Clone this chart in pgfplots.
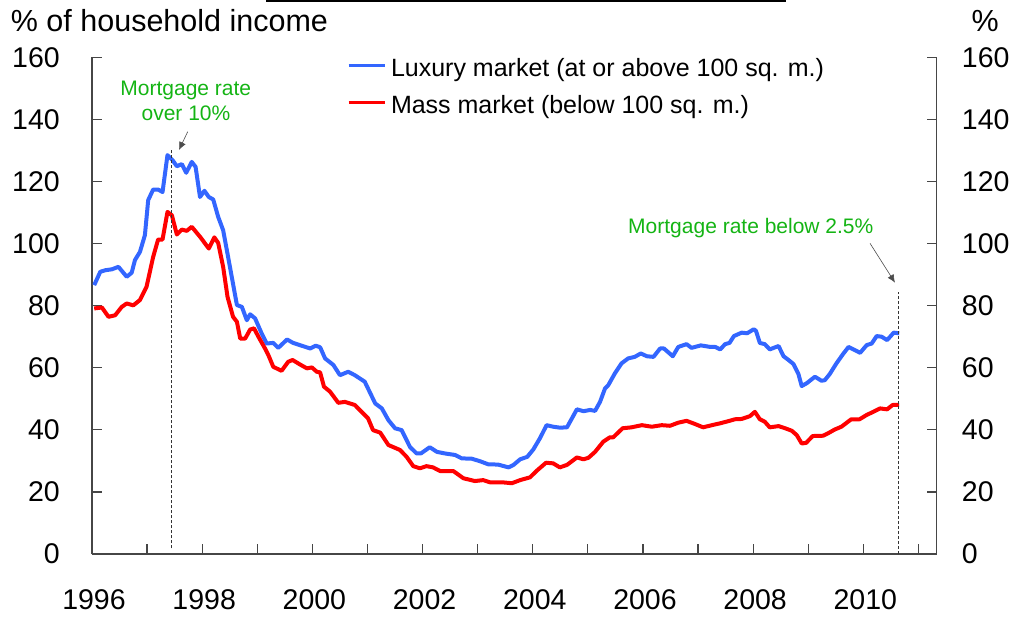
\documentclass[border=0pt]{standalone}
\usepackage{pgfplots}
\pgfplotsset{compat=1.18}
\usepackage{fontspec}
\setmainfont{Liberation Sans}
\usetikzlibrary{arrows.meta}
\definecolor{lux}{RGB}{51,102,255}
\definecolor{mass}{RGB}{255,0,0}
\definecolor{ann}{RGB}{20,180,20}
\definecolor{axgray}{RGB}{70,70,70}

\pgfplotstableread{
x y
1996.04 86.6
1996.15 90.9
1996.24 91.4
1996.36 91.7
1996.48 92.5
1996.63 89.3
1996.72 90.6
1996.78 94.7
1996.87 97.3
1996.96 102.7
1997.02 114.0
1997.11 117.4
1997.20 117.4
1997.28 116.6
1997.37 128.5
1997.46 126.9
1997.54 124.9
1997.63 125.6
1997.71 122.8
1997.81 126.3
1997.88 124.7
1997.96 115.0
1998.04 117.0
1998.12 115.0
1998.20 114.2
1998.29 108.6
1998.38 104.3
1998.47 95.7
1998.63 80.2
1998.72 79.6
1998.81 75.3
1998.87 77.2
1998.96 75.9
1999.08 71.0
1999.17 67.8
1999.29 68.0
1999.38 66.4
1999.54 69.1
1999.65 68.0
1999.77 67.3
1999.96 66.2
2000.06 67.1
2000.14 66.6
2000.23 63.0
2000.38 60.9
2000.50 57.6
2000.65 58.7
2000.77 57.6
2000.95 55.5
2001.14 48.5
2001.26 46.9
2001.38 43.1
2001.50 40.5
2001.62 39.9
2001.77 34.5
2001.89 32.4
2001.97 32.4
2002.13 34.4
2002.26 32.9
2002.40 32.4
2002.59 31.9
2002.71 30.8
2002.89 30.7
2003.04 29.9
2003.19 28.9
2003.37 28.8
2003.56 27.9
2003.65 28.7
2003.77 30.5
2003.90 31.3
2004.01 33.7
2004.13 37.3
2004.25 41.5
2004.37 41.0
2004.49 40.7
2004.62 40.8
2004.80 46.6
2004.92 46.0
2005.04 46.4
2005.13 46.1
2005.22 49.0
2005.31 53.3
2005.37 54.4
2005.49 58.2
2005.61 61.4
2005.73 63.0
2005.85 63.5
2005.96 64.6
2006.07 63.7
2006.19 63.5
2006.31 66.2
2006.38 66.2
2006.54 63.7
2006.64 66.7
2006.79 67.6
2006.88 66.4
2007.05 67.2
2007.22 66.7
2007.31 66.7
2007.40 65.9
2007.49 67.6
2007.57 68.0
2007.65 70.2
2007.79 71.3
2007.89 71.1
2008.01 72.4
2008.05 71.9
2008.12 68.0
2008.21 67.6
2008.30 65.9
2008.46 67.0
2008.55 63.7
2008.64 62.5
2008.73 61.2
2008.82 58.0
2008.88 54.1
2008.97 55.0
2009.12 57.1
2009.24 55.8
2009.30 56.0
2009.39 58.0
2009.51 61.4
2009.63 64.4
2009.73 66.7
2009.82 65.9
2009.94 64.8
2010.06 67.3
2010.15 67.8
2010.24 70.2
2010.33 70.0
2010.43 68.9
2010.55 71.3
2010.65 71.1
}\luxury

\pgfplotstableread{
x y
1996.04 79.1
1996.18 79.4
1996.30 76.4
1996.42 76.9
1996.54 79.6
1996.63 80.7
1996.75 80.1
1996.87 81.8
1996.99 86.1
1997.11 95.7
1997.20 101.3
1997.28 101.3
1997.37 110.2
1997.45 109.1
1997.54 102.9
1997.63 104.5
1997.72 104.1
1997.81 105.4
1997.96 102.2
1998.12 98.4
1998.22 102.0
1998.29 100.2
1998.38 92.5
1998.46 82.8
1998.56 76.4
1998.63 74.8
1998.69 69.4
1998.78 69.4
1998.87 72.3
1998.94 72.7
1999.02 70.0
1999.14 66.2
1999.20 64.1
1999.29 60.3
1999.44 59.0
1999.56 61.9
1999.64 62.5
1999.77 61.1
1999.90 59.8
1999.99 60.1
2000.08 58.7
2000.14 58.5
2000.21 53.9
2000.32 52.3
2000.47 48.7
2000.59 49.0
2000.77 48.0
2000.92 45.3
2001.01 43.7
2001.10 39.9
2001.23 39.1
2001.38 35.1
2001.59 33.5
2001.71 31.3
2001.83 28.3
2001.95 27.6
2002.07 28.3
2002.19 27.9
2002.32 26.7
2002.56 26.7
2002.74 24.4
2002.95 23.5
2003.10 23.8
2003.22 23.1
2003.44 23.1
2003.62 22.8
2003.77 23.8
2003.95 24.7
2004.07 26.8
2004.24 29.4
2004.37 29.2
2004.49 27.9
2004.62 28.7
2004.80 31.1
2004.92 30.5
2005.01 31.0
2005.13 32.9
2005.28 36.2
2005.40 37.6
2005.46 37.6
2005.63 40.5
2005.79 40.8
2005.98 41.5
2006.16 41.0
2006.34 41.5
2006.49 41.3
2006.64 42.3
2006.79 42.9
2006.94 41.9
2007.09 40.8
2007.25 41.5
2007.40 42.1
2007.55 42.8
2007.67 43.4
2007.79 43.5
2007.94 44.4
2008.03 45.8
2008.12 43.4
2008.21 42.6
2008.30 40.8
2008.46 41.2
2008.58 40.5
2008.70 39.7
2008.79 38.3
2008.88 35.6
2008.96 35.8
2009.08 38.0
2009.27 38.1
2009.36 38.9
2009.48 40.1
2009.60 41.0
2009.78 43.4
2009.93 43.4
2010.06 44.8
2010.18 45.8
2010.30 46.9
2010.43 46.6
2010.53 48.0
2010.65 48.0
}\massmkt

\begin{document}
\begin{tikzpicture}
\useasboundingbox (-92pt,-64pt) rectangle (925pt,554pt);
\pgfplotsset{
  common/.style={
    width=844.7pt, height=496.7pt, scale only axis,
    xmin=1996, xmax=2011.33, ymin=0, ymax=160,
    ytick={0,20,...,160},
    tick align=inside, major tick length=10pt,
    tick style={axgray, line width=1.2pt},
    axis line style={-, axgray, line width=1.2pt},
    /pgf/number format/assume math mode=true,
    tick label style={font=\fontsize{28.5}{30}\selectfont, inner sep=0pt},
  }
}
\begin{axis}[common,
  clip=false,
  axis x line*=bottom, axis y line*=left,
  xtick={1996,...,2011},
  xticklabels={1996,,1998,,2000,,2002,,2004,,2006,,2008,,2010,},
  xticklabel style={anchor=base, yshift=-55pt, xshift=2pt},
  yticklabel style={anchor=east, xshift=-32pt},
  legend style={draw=none, fill=none, inner sep=0pt, outer sep=0pt,
    at={(0.3019,0.9972)}, anchor=north west,
    font=\fontsize{25}{30}\selectfont,
    nodes={inner sep=0pt, text height=18pt, text depth=5.5pt, anchor=base west},
    row sep=13.1pt, column sep=5pt},
  legend cell align=left,
  legend image code/.code={\draw[#1, line width=3pt] (0pt,11pt) -- (36pt,11pt);},
]
\addplot[lux, line width=4pt, line join=round] table[x=x,y=y]{\luxury};
\addlegendentry{Luxury market (at or above 100 sq. m.)}
\addplot[mass, line width=4pt, line join=round] table[x=x,y=y]{\massmkt};
\addlegendentry{Mass market (below 100 sq. m.)}
\draw[black!80, line width=1pt, dash pattern=on 3pt off 2pt] (axis cs:1997.434,1.8) -- (axis cs:1997.434,130.6);
\draw[black!80, line width=1pt, dash pattern=on 3pt off 2pt] (axis cs:2010.63,0) -- (axis cs:2010.63,84.4);
\end{axis}
\begin{axis}[common,
  axis x line=none, axis y line*=right,
  yticklabel style={anchor=west, xshift=25pt},
]
\end{axis}
% titles
\node[anchor=base west, inner sep=0pt, font=\fontsize{30.5}{32}\selectfont] at (-81.3pt,522.3pt) {\% of household income};
\node[anchor=base east, inner sep=0pt, font=\fontsize{30.5}{32}\selectfont] at (907pt,522.3pt) {\%};
% top rule
\draw[black, line width=2pt] (174pt,553pt) -- (694pt,553pt);
% annotations
\node[anchor=base, inner sep=0pt, text=ann, font=\fontsize{21}{24}\selectfont] at (93.8pt,458.3pt) {Mortgage rate};
\node[anchor=base, inner sep=0pt, text=ann, font=\fontsize{21}{24}\selectfont] at (94pt,433.3pt) {over 10\%};
\node[anchor=base, inner sep=0pt, text=ann, font=\fontsize{21}{24}\selectfont] at (658.8pt,320.7pt) {Mortgage rate below 2.5\%};
\draw[black!70, line width=0.6pt, -{Latex[length=8pt,width=7pt]}] (95.7pt,422.3pt) -- (87pt,404pt);
\draw[black!70, line width=0.6pt, -{Latex[length=8pt,width=7pt]}] (778pt,310.7pt) -- (803pt,271.3pt);
\end{tikzpicture}
\end{document}
